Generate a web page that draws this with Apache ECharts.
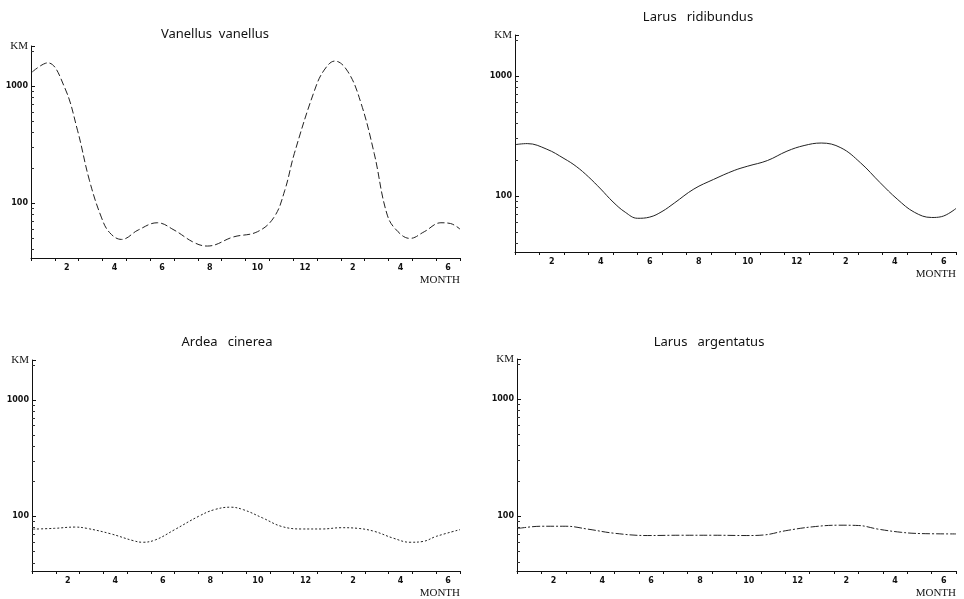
<!DOCTYPE html>
<html>
<head>
<meta charset="utf-8">
<script src="https://cdn.jsdelivr.net/npm/echarts@6/dist/echarts.min.js"></script>
<style>
  html, body { margin: 0; padding: 0; background: #fff; }
  #chart { width: 964px; height: 599px; }
</style>
</head>
<body>
<div id="chart"></div>
<script>
// months run Jan(1) .. Jun of the next year(18), ticks between months
var monthCats = ['1','2','3','4','5','6','7','8','9','10','11','12','13','14','15','16','17','18'];
var yLabels = [100, 1000];

// Vanellus vanellus
var vanMonths = [0.55, 1.2, 1.9, 2.45, 2.95, 3.45, 3.8, 4.3, 5.0, 5.8, 6.5, 7.35, 7.9, 9.0, 10.0, 10.7, 11.15, 11.55, 12.4, 12.8, 13.25, 13.8, 14.35, 14.9, 15.45, 15.9, 16.4, 17.0, 17.7, 18.1, 18.5];
var vanKm = [1320, 1580, 985, 420, 157, 76, 56, 49, 59, 68, 59, 46, 43, 51.5, 57, 76, 129, 266, 923, 1370, 1636, 1325, 711, 266, 79, 57, 50, 57, 68, 67, 60];

// Larus ridibundus
var ridMonths = [0.53, 1.0, 1.8, 2.5, 3.0, 3.5, 4.0, 4.5, 5.0, 5.5, 6.0, 6.5, 7.0, 7.8, 8.6, 9.45, 10.0, 10.8, 11.6, 12.3, 13.0, 13.8, 14.6, 15.4, 16.1, 16.8, 17.5, 17.9, 18.5];
var ridKm = [268, 273, 245, 205, 176, 144, 114, 89, 73, 65, 66.5, 74, 87, 114, 137, 163, 177, 197, 236, 263, 276, 252, 189, 129, 94, 73, 66, 67, 78.5];

// Ardea cinerea
var ardMonths = [0.55, 1.45, 2.3, 2.8, 3.8, 4.75, 5.15, 5.7, 6.5, 7.5, 8.15, 8.85, 9.4, 10.2, 11.0, 11.85, 12.7, 13.5, 14.2, 14.9, 15.7, 16.4, 16.95, 17.5, 18.5];
var ardKm = [77.8, 79, 81, 79, 71, 62, 60, 63, 77, 100, 114, 120, 114, 97, 82, 78, 78, 80, 79, 74.4, 65, 60, 61, 67.4, 77];

// Larus argentatus
var argMonths = [0.55, 1.5, 2.5, 3.4, 4.5, 5.85, 7.2, 8.55, 9.9, 10.6, 11.5, 12.6, 13.7, 14.5, 15.3, 16.25, 17.05, 18.5];
var argKm = [78.5, 82, 82, 77.5, 71.4, 68.3, 68.7, 68.7, 68.3, 69, 75, 81, 83.7, 83.2, 77.5, 72.8, 71, 70.5];

var species = [
  { name: 'Vanellus  vanellus', months: vanMonths, km: vanKm, dash: [7, 3], grid: { left: 31, top: 46, width: 429, height: 212 }, title: [210, 23] },
  { name: 'Larus   ridibundus', months: ridMonths, km: ridKm, dash: 'solid', grid: { left: 515, top: 35, width: 441, height: 217 }, title: [693, 6] },
  { name: 'Ardea   cinerea', months: ardMonths, km: ardKm, dash: [2, 2], grid: { left: 32, top: 360, width: 428, height: 211 }, title: [222, 331] },
  { name: 'Larus   argentatus', months: argMonths, km: argKm, dash: [8, 2, 2, 2], grid: { left: 517, top: 359, width: 439, height: 217 }, title: [704, 331] }
];

var chart = echarts.init(document.getElementById('chart'));

var grids = [], titles = [], xAxes = [], yAxes = [], series = [];
species.forEach(function (sp, i) {
  grids.push(sp.grid);
  titles.push({
    text: sp.name,
    left: sp.title[0],
    top: sp.title[1],
    textAlign: 'center',
    textStyle: { fontFamily: 'Noto Sans', fontWeight: 'normal', fontSize: 13, color: '#111' }
  });
  // value axis carrying the data
  xAxes.push({
    type: 'value', gridIndex: i, min: 0.5, max: 18.5, show: false, position: 'top'
  });
  // category axis for ticks and month labels
  xAxes.push({
    type: 'category', gridIndex: i, data: monthCats, boundaryGap: true, position: 'bottom',
    name: 'MONTH', nameLocation: 'end', nameGap: 0,
    nameTextStyle: { fontFamily: 'Liberation Serif', fontSize: 11, color: '#111', align: 'right', verticalAlign: 'top', padding: [17, 0, 0, 0] },
    axisLine: { onZero: false, lineStyle: { color: '#111', width: 1 } },
    axisTick: { show: true, interval: 0, length: 3, lineStyle: { color: '#111' } },
    axisLabel: {
      interval: function (idx) { return idx % 2 === 1; },
      formatter: function (v) { return String((Number(v) - 1) % 12 + 1); },
      fontFamily: 'DejaVu Sans', fontWeight: 'bold', fontSize: 8, color: '#111', margin: 6
    },
    splitLine: { show: false }
  });
  yAxes.push({
    type: 'log', gridIndex: i, min: 34, max: 2200, logBase: 10,
    name: 'KM', nameLocation: 'end', nameGap: 0,
    nameTextStyle: { fontFamily: 'Liberation Serif', fontSize: 11, color: '#111', align: 'right', verticalAlign: 'middle', padding: [0, 3, 0, 0] },
    axisLine: { show: true, onZero: false, lineStyle: { color: '#111', width: 1 } },
    axisTick: { show: true, inside: true, length: 4, lineStyle: { color: '#111' } },
    minorTick: { show: true, splitNumber: 9, length: 3, lineStyle: { color: '#333' } },
    axisLabel: {
      showMinLabel: false, showMaxLabel: false,
      formatter: function (v) { return yLabels.indexOf(Math.round(v)) >= 0 ? String(Math.round(v)) : ''; },
      fontFamily: 'DejaVu Sans', fontWeight: 'bold', fontSize: 8, color: '#111', margin: 3
    },
    splitLine: { show: false },
    minorSplitLine: { show: false }
  });
  series.push({
    type: 'line', xAxisIndex: i * 2, yAxisIndex: i,
    data: sp.months.map(function (m, k) { return [m, sp.km[k]]; }),
    smooth: 0.4, showSymbol: false, symbol: 'none',
    lineStyle: { color: '#222', width: 1, type: sp.dash },
    silent: true
  });
});

chart.setOption({
  animation: false,
  backgroundColor: '#fff',
  title: titles,
  grid: grids,
  xAxis: xAxes,
  yAxis: yAxes,
  series: series
});
</script>
</body>
</html>
